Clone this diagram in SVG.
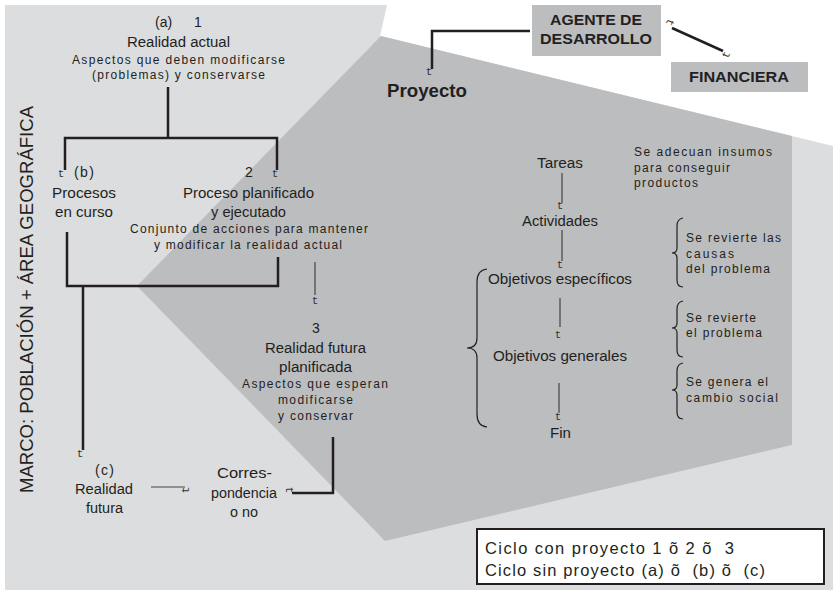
<svg xmlns="http://www.w3.org/2000/svg" width="833" height="592" viewBox="0 0 833 592">
<defs>
<style>
text{font-family:"Liberation Sans",Arial,sans-serif;fill:#231f20;}
.l{font-size:14px;}
.s{font-size:12px;}
.b{font-size:15px;font-weight:bold;}
.g{font-family:"Liberation Mono","DejaVu Sans Mono",monospace;font-size:11px;fill:#333;text-anchor:middle;}
.thick{fill:none;stroke:#231f20;stroke-width:2.5;}
.thin{fill:none;stroke:#444;stroke-width:1.2;}
.brace{fill:none;stroke:#231f20;stroke-width:1.2;}
</style>
</defs>
<rect x="0" y="0" width="833" height="592" fill="#ffffff"/>
<g id="background">
<polygon points="5,5 387,5 380,36 833,146 833,590 5,590" fill="#dcdddf"/>
<polygon points="381,36 792,136 792,445 385,541 137,286" fill="#bcbdbf"/>
</g>
<g id="marco">
<text transform="translate(33,493) rotate(-90)" font-size="19" textLength="387" lengthAdjust="spacingAndGlyphs">MARCO: POBLACIÓN + ÁREA GEOGRÁFICA</text>
</g>
<g id="connectors">
<path class="thick" d="M168,87 V138"/>
<path class="thick" d="M65,170 V138 H277 V170"/>
<path class="thick" d="M67,232 V286 H278 V257"/>
<path class="thick" d="M83,286 V450"/>
<path class="thick" d="M333,437 V493 H292"/>
<path class="thick" d="M432,69 V31 H530"/>
<path class="thick" d="M672,28 L723,51"/>
<path class="thin" d="M315,262 V295"/>
<path class="thin" d="M151,487 H185"/>
<path class="thin" d="M562,173 V203"/>
<path class="thin" d="M562,230 V261"/>
<path class="thin" d="M560,298 V327"/>
<path class="thin" d="M559,383 V413"/>
<text class="g" x="61" y="177">t</text>
<text class="g" x="275" y="177">t</text>
<text class="g" x="315" y="304">t</text>
<text class="g" x="80" y="457">t</text>
<text class="g" x="429" y="75">t</text>
<text class="g" x="560" y="209">t</text>
<text class="g" x="560" y="268">t</text>
<text class="g" x="558" y="338">t</text>
<text class="g" x="558" y="420">t</text>
<text class="g" transform="translate(189,490) rotate(-90)">t</text>
<text class="g" transform="translate(286,490) rotate(90)">t</text>
<text class="g" transform="translate(667,21) rotate(114)">t</text>
<text class="g" transform="translate(729,56) rotate(-66)">t</text>
</g>
<g id="n_realidad_actual">
<text class="l"><tspan x="155" y="27">(a)</tspan><tspan x="194" y="27">1</tspan></text>
<text class="l" x="127" y="47" textLength="103" lengthAdjust="spacingAndGlyphs">Realidad actual</text>
<text class="s" x="72" y="64" textLength="213">Aspectos que deben modificarse</text>
<text class="s" x="92" y="79" textLength="173">(problemas) y conservarse</text>
</g>
<g id="n_procesos_en_curso">
<text class="l" x="74" y="177" textLength="20">(b)</text>
<text class="l" x="52" y="198" textLength="64" lengthAdjust="spacingAndGlyphs">Procesos</text>
<text class="l" x="55" y="217" textLength="58" lengthAdjust="spacingAndGlyphs">en curso</text>
</g>
<g id="n_proceso_planificado">
<text class="l" x="245" y="177">2</text>
<text class="l" x="183" y="198" textLength="131" lengthAdjust="spacingAndGlyphs">Proceso planificado</text>
<text class="l" x="211" y="217" textLength="75" lengthAdjust="spacingAndGlyphs">y ejecutado</text>
<text class="s" x="130" y="233" textLength="238">Conjunto de acciones para mantener</text>
<text class="s" x="154" y="249" textLength="188">y modificar la realidad actual</text>
</g>
<g id="n_realidad_futura_planificada">
<text class="l" x="312" y="333">3</text>
<text class="l" x="265" y="353" textLength="101" lengthAdjust="spacingAndGlyphs">Realidad futura</text>
<text class="l" x="279" y="372" textLength="73" lengthAdjust="spacingAndGlyphs">planificada</text>
<text class="s" x="242" y="388" textLength="146">Aspectos que esperan</text>
<text class="s" x="278" y="404" textLength="75">modificarse</text>
<text class="s" x="278" y="420" textLength="75">y conservar</text>
</g>
<g id="n_realidad_futura">
<text class="l" x="95" y="475" textLength="19">(c)</text>
<text class="l" x="75" y="494" textLength="58" lengthAdjust="spacingAndGlyphs">Realidad</text>
<text class="l" x="86" y="513" textLength="37" lengthAdjust="spacingAndGlyphs">futura</text>
</g>
<g id="n_correspondencia">
<text class="l" x="217" y="478" textLength="55" lengthAdjust="spacingAndGlyphs">Corres-</text>
<text class="l" x="211" y="498" textLength="66" lengthAdjust="spacingAndGlyphs">pondencia</text>
<text class="l" x="230" y="517" textLength="28" lengthAdjust="spacingAndGlyphs">o no</text>
</g>
<g id="n_proyecto">
<text x="387" y="97" font-size="18" font-weight="bold" textLength="80" lengthAdjust="spacingAndGlyphs">Proyecto</text>
</g>
<g id="n_agente">
<rect x="532" y="5" width="129" height="51" fill="#bcbdbf"/>
<text class="b" x="550" y="25" textLength="92" lengthAdjust="spacingAndGlyphs">AGENTE DE</text>
<text class="b" x="540" y="44" textLength="112" lengthAdjust="spacingAndGlyphs">DESARROLLO</text>
</g>
<g id="n_financiera">
<rect x="671" y="62" width="137" height="30" fill="#bcbdbf"/>
<text class="b" x="689" y="82" textLength="100" lengthAdjust="spacingAndGlyphs">FINANCIERA</text>
</g>
<g id="n_tareas">
<text class="l" x="537" y="168" textLength="46" lengthAdjust="spacingAndGlyphs">Tareas</text>
</g>
<g id="n_actividades">
<text class="l" x="522" y="226" textLength="76" lengthAdjust="spacingAndGlyphs">Actividades</text>
</g>
<g id="n_objetivos_especificos">
<text class="l" x="488" y="284" textLength="144" lengthAdjust="spacingAndGlyphs">Objetivos específicos</text>
</g>
<g id="n_objetivos_generales">
<text class="l" x="493" y="361" textLength="134" lengthAdjust="spacingAndGlyphs">Objetivos generales</text>
</g>
<g id="n_fin">
<text class="l" x="550" y="438" textLength="21" lengthAdjust="spacingAndGlyphs">Fin</text>
</g>
<g id="n_insumos">
<text class="s" x="634" y="156" textLength="138">Se adecuan insumos</text>
<text class="s" x="634" y="172" textLength="96">para conseguir</text>
<text class="s" x="634" y="187" textLength="64">productos</text>
</g>
<g id="braces">
<path class="brace" d="M487,269 Q477,270 477,282 L477,338 Q477,348 467,348 Q477,348 477,358 L477,414 Q477,426 487,427"/>
<path class="brace" d="M683,218 Q677,219 677,226 L677,248 Q677,253 672,253 Q677,253 677,258 L677,280 Q677,287 683,287"/>
<path class="brace" d="M683,301 Q677,302 677,309 L677,323 Q677,328 672,328 Q677,328 677,333 L677,350 Q677,357 683,357"/>
<path class="brace" d="M683,363 Q677,364 677,371 L677,385 Q677,390 672,390 Q677,390 677,395 L677,412 Q677,419 683,419"/>
</g>
<g id="n_causas">
<text class="s" x="686" y="242" textLength="95">Se revierte las</text>
<text class="s" x="686" y="258" textLength="48">causas</text>
<text class="s" x="686" y="273" textLength="84">del problema</text>
</g>
<g id="n_problema">
<text class="s" x="686" y="322" textLength="70">Se revierte</text>
<text class="s" x="686" y="337" textLength="76">el problema</text>
</g>
<g id="n_cambio">
<text class="s" x="686" y="386" textLength="82">Se genera el</text>
<text class="s" x="686" y="402" textLength="92">cambio social</text>
</g>
<g id="legend">
<rect x="477" y="529" width="347" height="55" fill="#ffffff" stroke="#231f20" stroke-width="2"/>
<text x="485" y="554" font-size="16.5" textLength="249" xml:space="preserve">Ciclo con proyecto 1 õ 2 õ  3</text>
<text x="485" y="576" font-size="16.5" textLength="280" xml:space="preserve">Ciclo sin proyecto (a) õ  (b) õ  (c)</text>
</g>
</svg>
